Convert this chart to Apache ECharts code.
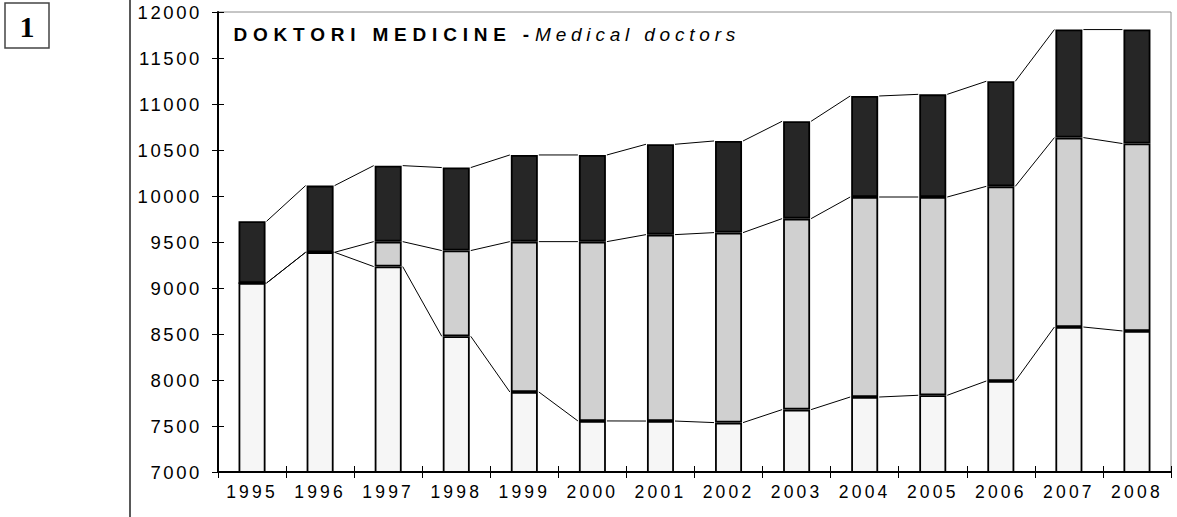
<!DOCTYPE html>
<html>
<head>
<meta charset="UTF-8">
<title>Doktori medicine</title>
<script src="https://cdn.jsdelivr.net/npm/echarts@6/dist/echarts.min.js"></script>
<style>
html, body { margin: 0; padding: 0; background: #fff; }
#container { width: 1177px; height: 517px; }
/* the source chart uses wide letter spacing */
#container text[style*="18.5px"] { letter-spacing: 2.6px; }
#container text[style*="17.5px"] { letter-spacing: 3.2px; }
#container text[style*="bold"][style*="19px"] { letter-spacing: 5.8px; }
#container text[style*="italic"] { letter-spacing: 4.8px; }
</style>
</head>
<body>
<div id="container"></div>
<script type="text/javascript">
var years = ['1995', '1996', '1997', '1998', '1999', '2000', '2001', '2002', '2003', '2004', '2005', '2006', '2007', '2008'];
var lowerPart  = [9054, 9388, 9233, 8475, 7870, 7555, 7554, 7537, 7678, 7815, 7834, 7989, 8576, 8533];
var middlePart = [0, 0, 271, 932, 1634, 1949, 2026, 2065, 2076, 2174, 2155, 2116, 2059, 2037];
var upperPart  = [671, 725, 826, 902, 942, 942, 982, 996, 1058, 1098, 1116, 1142, 1174, 1239];
var yMin = 7000, yMax = 12000, yStep = 500;

var barW = 27;
var gridLeft = 218, gridRight = 6, gridTop = 12, gridBottom = 45;
var gridW = 1177 - gridLeft - gridRight;
var gridH = 517 - gridTop - gridBottom;
var font = '"Liberation Sans", Arial, sans-serif';

// stack tops, used by the connecting lines between bars
var lvl1 = [], lvl2 = [], lvl3 = [];
for (var i = 0; i < years.length; i++) {
    lvl1.push(lowerPart[i]);
    lvl2.push(lowerPart[i] + middlePart[i]);
    lvl3.push(lowerPart[i] + middlePart[i] + upperPart[i]);
}

function barSeries(name, values, color) {
    return {
        name: name,
        type: 'bar',
        stack: 'total',
        barWidth: barW,
        data: values,
        itemStyle: { color: color, borderColor: '#000', borderWidth: 1.8 },
        emphasis: { disabled: true },
        z: 2
    };
}

var dom = document.getElementById('container');
var myChart = echarts.init(dom, null, { renderer: 'svg' });
var option = {
    animation: false,
    backgroundColor: '#fff',
    grid: {
        left: gridLeft, right: gridRight, top: gridTop, bottom: gridBottom,
        show: true, borderColor: '#8c8c8c', borderWidth: 1,
        backgroundColor: 'transparent',
        containLabel: false, outerBoundsMode: 'none'
    },
    xAxis: [
        {
            type: 'category', data: years, position: 'bottom',
            axisLine: { lineStyle: { color: '#000', width: 2 } },
            axisTick: { show: true, length: 6, lineStyle: { color: '#000', width: 1 } },
            axisLabel: { interval: 0, margin: 11, color: '#000', fontSize: 17.5, fontFamily: font },
            splitLine: { show: false }
        },
        {
            // second copy only for the inner half of the crossing ticks
            type: 'category', data: years, position: 'top', offset: -gridH,
            axisLine: { show: false },
            axisTick: { show: true, length: 6, lineStyle: { color: '#000', width: 1 } },
            axisLabel: { show: false },
            splitLine: { show: false }
        }
    ],
    yAxis: [
        {
            type: 'value', min: yMin, max: yMax, interval: yStep, position: 'left',
            axisLine: { show: true, lineStyle: { color: '#000', width: 2 } },
            axisTick: { show: true, length: 6, lineStyle: { color: '#000', width: 1 } },
            axisLabel: {
                margin: 16, color: '#000', fontSize: 18.5, fontFamily: font,
                formatter: function (v) { return String(v); }
            },
            splitLine: { show: false }
        },
        {
            type: 'value', min: yMin, max: yMax, interval: yStep, position: 'right', offset: -gridW,
            axisLine: { show: false },
            axisTick: { show: true, length: 6, lineStyle: { color: '#000', width: 1 } },
            axisLabel: { show: false },
            splitLine: { show: false }
        }
    ],
    graphic: [
        { type: 'line', shape: { x1: 130, y1: 0, x2: 130, y2: 517 }, style: { stroke: '#222', lineWidth: 1.5 } },
        { type: 'rect', shape: { x: 5, y: 3, width: 44, height: 45 }, style: { fill: '#fff', stroke: '#444', lineWidth: 1.5 } },
        { type: 'text', x: 27, y: 26, style: { text: '1', font: 'bold 30px "Liberation Serif", serif', fill: '#000', align: 'center', verticalAlign: 'middle' } },
        { type: 'text', x: 233.5, y: 34, style: { text: 'DOKTORI MEDICINE -', font: 'bold 19px "Liberation Sans", Arial, sans-serif', fill: '#000', align: 'left', verticalAlign: 'middle' } },
        { type: 'text', x: 535, y: 34, style: { text: 'Medical doctors', font: 'italic 19px "Liberation Sans", Arial, sans-serif', fill: '#000', align: 'left', verticalAlign: 'middle' } }
    ],
    series: [
        barSeries('lower', lowerPart, '#f6f6f6'),
        barSeries('middle', middlePart, '#d0d0d0'),
        barSeries('upper', upperPart, '#262626'),
        {
            type: 'custom',
            name: 'links',
            data: years.map(function (y, k) { return [k, lvl3[k]]; }),
            z: 3,
            silent: true,
            renderItem: function (params, api) {
                var k = api.value(0);
                if (k >= years.length - 1) return;
                var kids = [];
                [lvl1, lvl2, lvl3].forEach(function (lv) {
                    var a = api.coord([k, lv[k]]);
                    var b = api.coord([k + 1, lv[k + 1]]);
                    kids.push({
                        type: 'line',
                        shape: { x1: a[0] + barW / 2 + 1, y1: a[1], x2: b[0] - barW / 2 - 1, y2: b[1] },
                        style: { stroke: '#000', lineWidth: 1 }
                    });
                });
                return { type: 'group', children: kids };
            }
        }
    ]
};

if (option && typeof option === "object") {
    myChart.setOption(option, true);
}
</script>
</body>
</html>
